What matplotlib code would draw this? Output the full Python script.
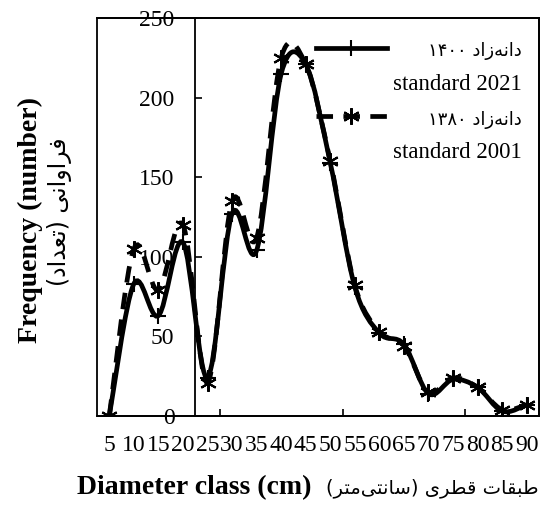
import re
import numpy as np
import matplotlib
matplotlib.use('Agg')
import matplotlib.pyplot as plt
from matplotlib.path import Path
from matplotlib.patches import PathPatch, Rectangle
from matplotlib.lines import Line2D
from matplotlib.transforms import Affine2D

plt.rcParams['font.family'] = ['Liberation Serif', 'DejaVu Sans']

# data
classes = [5, 10, 15, 20, 25, 30, 35, 40, 45, 50, 55, 60, 65, 70, 75, 80, 85, 90]
freq_1400 = [0, 83, 63, 109, 24, 127, 104, 215, 221, 159, 81, 52, 45, 14, 23, 18, 3, 7]
freq_1380 = [0, 105, 79, 120, 21, 135, 112, 225, 221, 160, 82, 53, 44, 15, 24, 18, 4, 7]

label_1400 = 'دانه‌زاد ۱۴۰۰'
label_1380 = 'دانه‌زاد ۱۳۸۰'
ylabel_en = 'Frequency (number)'
ylabel_fa = 'فراوانی (تعداد)'
xlabel_en = 'Diameter class (cm)'
xlabel_fa = 'طبقات قطری (سانتی‌متر)'

# matplotlib has no arabic shaping, so pick presentation forms by hand
FORMS = {
    'ا': ('\uFE8D', '\uFE8E', None, None),
    'ب': ('\uFE8F', '\uFE90', '\uFE91', '\uFE92'),
    'ت': ('\uFE95', '\uFE96', '\uFE97', '\uFE98'),
    'د': ('\uFEA9', '\uFEAA', None, None),
    'ر': ('\uFEAD', '\uFEAE', None, None),
    'ز': ('\uFEAF', '\uFEB0', None, None),
    'س': ('\uFEB1', '\uFEB2', '\uFEB3', '\uFEB4'),
    'ط': ('\uFEC1', '\uFEC2', '\uFEC3', '\uFEC4'),
    'ع': ('\uFEC9', '\uFECA', '\uFECB', '\uFECC'),
    'ف': ('\uFED1', '\uFED2', '\uFED3', '\uFED4'),
    'ق': ('\uFED5', '\uFED6', '\uFED7', '\uFED8'),
    'م': ('\uFEE1', '\uFEE2', '\uFEE3', '\uFEE4'),
    'ن': ('\uFEE5', '\uFEE6', '\uFEE7', '\uFEE8'),
    'ه': ('\uFEE9', '\uFEEA', '\uFEEB', '\uFEEC'),
    'و': ('\uFEED', '\uFEEE', None, None),
    'ی': ('\uFBFC', '\uFBFD', '\uFBFE', '\uFBFF'),
}


def fa(s):
    out = []
    for i, c in enumerate(s):
        if c == '\u200c':
            continue
        if c not in FORMS:
            out.append(c)
            continue
        prev = s[i - 1] if i > 0 else ''
        nxt = s[i + 1] if i + 1 < len(s) else ''
        jp = prev in FORMS and FORMS[prev][2] is not None
        jn = FORMS[c][2] is not None and nxt in FORMS
        iso, fin, ini, med = FORMS[c]
        if jp and jn:
            out.append(med)
        elif jp:
            out.append(fin)
        elif jn:
            out.append(ini)
        else:
            out.append(iso)
    vis = ''.join(out)[::-1]
    vis = re.sub(r'[0-9\u06F0-\u06F9]+', lambda m: m.group(0)[::-1], vis)
    return vis.translate(str.maketrans('()', ')('))


def smooth_path(xs, ys):
    # excel-like smoothed line through the points
    pts = np.column_stack([xs, ys]).astype(float)
    n = len(pts)
    verts = [pts[0]]
    codes = [Path.MOVETO]
    for i in range(n - 1):
        p0 = pts[max(i - 1, 0)]
        p1 = pts[i]
        p2 = pts[i + 1]
        p3 = pts[min(i + 2, n - 1)]
        verts += [p1 + (p2 - p0) / 6, p2 - (p3 - p1) / 6, p2]
        codes += [Path.CURVE4] * 3
    return Path(verts, codes)


fig = plt.figure(figsize=(5.4, 5.09), dpi=100)
ax = fig.add_axes([97 / 540, 1 - 416 / 509, 442 / 540, 398 / 509])

x = np.arange(len(classes))
lw = 3.4
dash = (0, (3.5, 2.2))
ax.add_patch(PathPatch(smooth_path(x, freq_1380), fill=False, color='k', lw=lw,
                       linestyle=dash))
ax.add_patch(PathPatch(smooth_path(x, freq_1400), fill=False, color='k', lw=lw))
star = (6, 2, 0)
ax.plot(x, freq_1380, ls='none', marker=star, ms=12, mew=1.5, color='k')
ax.plot(x, freq_1400, ls='none', marker='+', ms=12, mew=1.5, color='k')

ax.set_xlim(-0.5, len(classes) - 0.5)
ax.set_ylim(0, 250)

# y axis crosses between 20 and 25
ax.spines['left'].set_position(('data', 3.5))
for sp in ax.spines.values():
    sp.set_linewidth(1.3)
ax.add_patch(Rectangle((0, 0), 1, 1, transform=ax.transAxes, fill=False,
                       lw=1.3, color='k', clip_on=False))

ax.set_yticks(range(0, 251, 50))
ax.tick_params(axis='y', direction='in', length=5, width=1.2, pad=15, labelsize=17)
ax.set_xticks(x, labels=[str(c) for c in classes])
ax.tick_params(axis='x', which='major', length=0, pad=14, labelsize=17)
ax.set_xticks([4.5, 9.5, 14.5], minor=True)
ax.tick_params(axis='x', which='minor', direction='in', length=5, width=1.2)

h1 = Line2D([], [], color='k', lw=lw, marker='+', ms=12, mew=1.5)
h2 = Line2D([], [], color='k', lw=lw, ls=dash, marker=star, ms=12, mew=1.5)
blank = Line2D([], [], ls='none')
leg = ax.legend([h1, blank, h2, blank],
                [fa(label_1400), 'standard 2021', fa(label_1380), 'standard 2001'],
                loc='upper left', bbox_to_anchor=(0.495, 0.945), frameon=False,
                fontsize=16.5, handlelength=3.1, handletextpad=0.25,
                borderpad=0, borderaxespad=0, labelspacing=0.6, numpoints=1)
texts = leg.get_texts()
for t in (texts[0], texts[2]):
    t.set_fontfamily('DejaVu Sans')
    t.set_fontsize(13)

fig.text(30 / 540, 1 - 220 / 509, ylabel_en, rotation=90, fontsize=20,
         fontweight='bold', ha='center', va='center')
fig.text(60 / 540, 1 - 212 / 509, fa(ylabel_fa), rotation=90, fontsize=17,
         family='DejaVu Sans', ha='center', va='center')
fig.text(77 / 540, 1 - 488 / 509, xlabel_en, fontsize=20, fontweight='bold',
         ha='left', va='center')
fig.text(326 / 540, 1 - 488 / 509, fa(xlabel_fa), fontsize=14,
         family='DejaVu Sans', ha='left', va='center')

# right-align the persian legend lines with the english ones
fig.canvas.draw()
r = fig.canvas.get_renderer()
for tp, te in ((texts[0], texts[1]), (texts[2], texts[3])):
    dx = te.get_window_extent(r).x1 - tp.get_window_extent(r).x1
    tp.set_transform(tp.get_transform() + Affine2D().translate(dx, 0))

fig.savefig('out.png', dpi=100)
